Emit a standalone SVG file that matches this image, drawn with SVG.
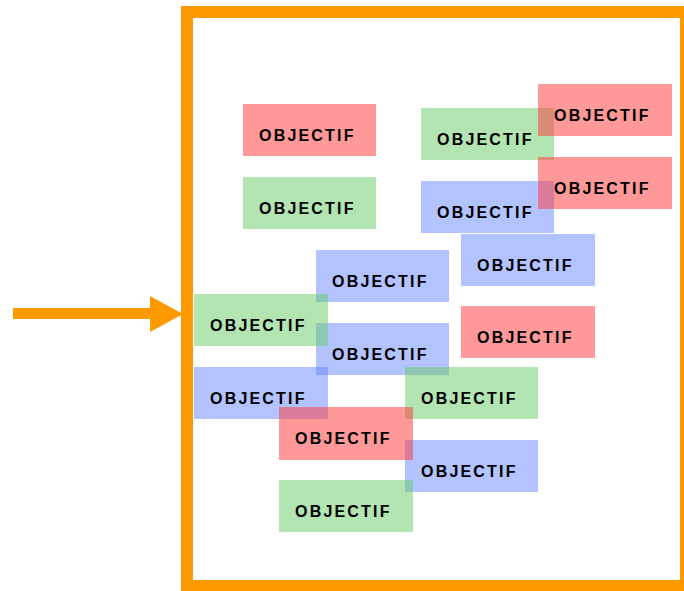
<svg xmlns="http://www.w3.org/2000/svg" width="684" height="591" viewBox="0 0 684 591">
<style>
.b{opacity:0.5}
.r{fill:#ff3333}
.g{fill:#66cc66}
.u{fill:#6688ff}
.t{font-family:"Liberation Sans",Arial,sans-serif;font-weight:bold;font-size:16px;letter-spacing:2.2px;fill:#000}
</style>
<rect width="684" height="591" fill="#fff"/>
<rect id="frame" x="187" y="12" width="499" height="574" fill="#fff" stroke="#ff9900" stroke-width="12"/>
<g id="connectors">
<line x1="13" y1="313.5" x2="152" y2="313.5" stroke="#ff9900" stroke-width="11"/>
<polygon points="150,296 183,314 150,332" fill="#ff9900"/>
</g>
<g id="boxes-blue">
<g id="n6"><rect class="b u" x="421" y="181" width="133" height="52"/></g>
<g id="n7"><rect class="b u" x="461" y="234" width="134" height="52"/></g>
<g id="n8"><rect class="b u" x="316" y="250" width="133" height="52"/></g>
<g id="n10"><rect class="b u" x="316" y="323" width="133" height="52"/></g>
<g id="n12"><rect class="b u" x="194" y="367" width="134" height="52"/></g>
<g id="n15"><rect class="b u" x="405" y="440" width="133" height="52"/></g>
</g>
<g id="boxes-green">
<g id="n2"><rect class="b g" x="243" y="177" width="133" height="52"/></g>
<g id="n3"><rect class="b g" x="421" y="108" width="133" height="52"/></g>
<g id="n9"><rect class="b g" x="194" y="294" width="134" height="52"/></g>
<g id="n13"><rect class="b g" x="405" y="367" width="133" height="52"/></g>
<g id="n16"><rect class="b g" x="279" y="480" width="134" height="52"/></g>
</g>
<g id="boxes-red">
<g id="n1"><rect class="b r" x="243" y="104" width="133" height="52"/></g>
<g id="n4"><rect class="b r" x="538" y="84" width="134" height="52"/></g>
<g id="n5"><rect class="b r" x="538" y="157" width="134" height="52"/></g>
<g id="n11"><rect class="b r" x="461" y="306" width="134" height="52"/></g>
<g id="n14"><rect class="b r" x="279" y="407" width="134" height="53"/></g>
</g>
<g id="labels">
<text class="t" x="259" y="141">OBJECTIF</text>
<text class="t" x="259" y="214">OBJECTIF</text>
<text class="t" x="437" y="145">OBJECTIF</text>
<text class="t" x="554" y="121">OBJECTIF</text>
<text class="t" x="554" y="194">OBJECTIF</text>
<text class="t" x="437" y="218">OBJECTIF</text>
<text class="t" x="477" y="271">OBJECTIF</text>
<text class="t" x="332" y="287">OBJECTIF</text>
<text class="t" x="210" y="331">OBJECTIF</text>
<text class="t" x="332" y="360">OBJECTIF</text>
<text class="t" x="477" y="343">OBJECTIF</text>
<text class="t" x="210" y="404">OBJECTIF</text>
<text class="t" x="421" y="404">OBJECTIF</text>
<text class="t" x="295" y="444">OBJECTIF</text>
<text class="t" x="421" y="477">OBJECTIF</text>
<text class="t" x="295" y="517">OBJECTIF</text>
</g>
</svg>
